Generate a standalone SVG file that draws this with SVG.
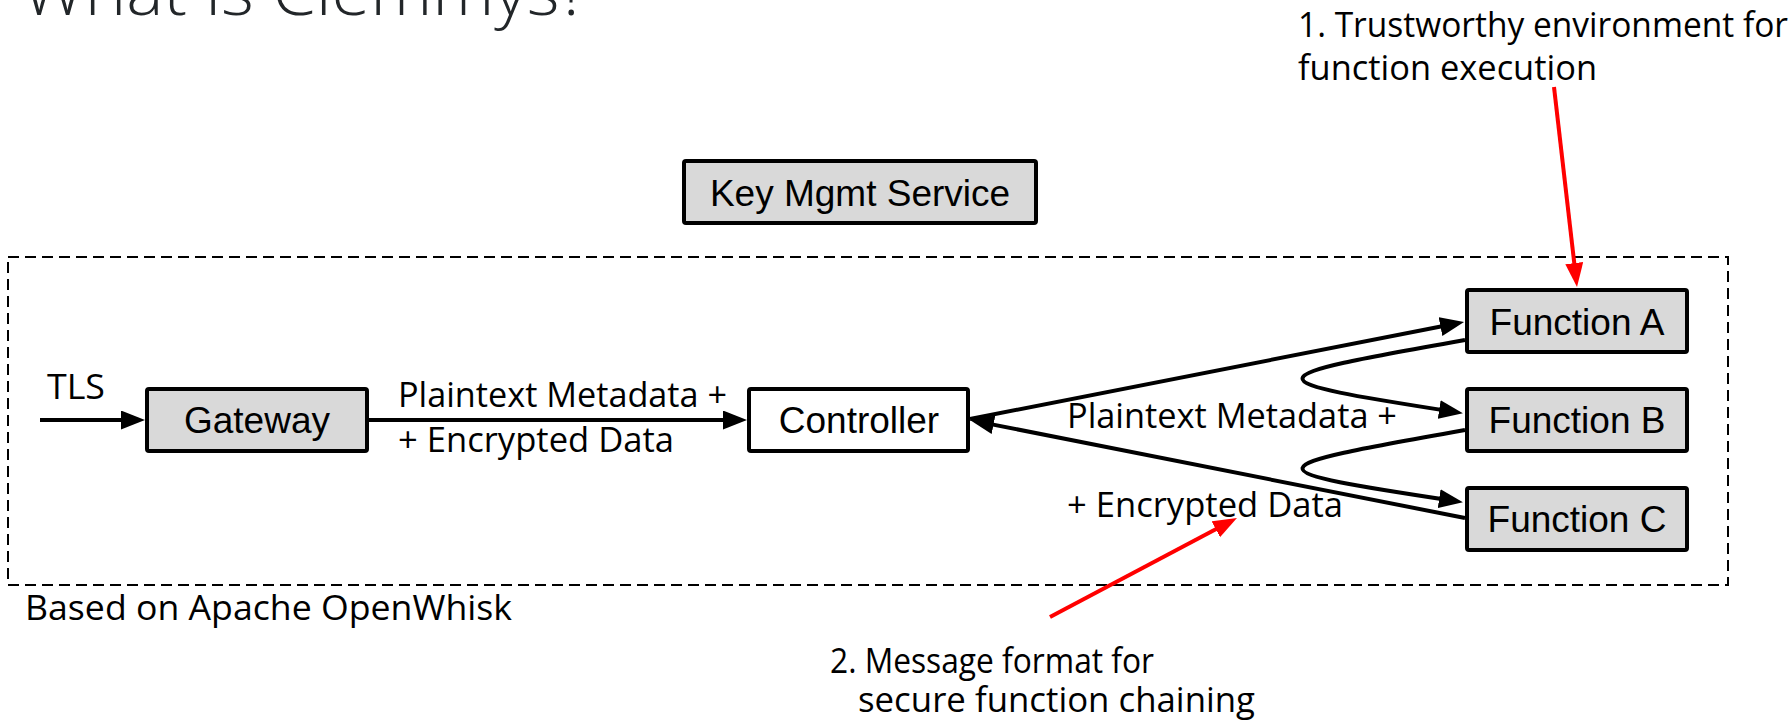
<svg xmlns="http://www.w3.org/2000/svg" width="1792" height="722" viewBox="0 0 1792 722">
  <style>
    .node { stroke: #000; stroke-width: 4; }
    .gray { fill: #d9d9d9; }
    .white { fill: #fff; }
    .nlabel { font-family: "Liberation Sans", Arial, sans-serif; font-size: 37px; fill: #000; text-anchor: middle; }
    .label { font-family: "Open Sans", "Noto Sans", sans-serif; font-size: 35px; fill: #000; }
    .title { font-family: "Open Sans", "Noto Sans", sans-serif; font-size: 66px; font-weight: 300; fill: #222629; }
    .conn { fill: none; stroke: #000; stroke-width: 4; }
    .note { fill: none; stroke: #ff0000; stroke-width: 4; }
  </style>
  <defs>
    <marker id="arrow" markerUnits="userSpaceOnUse" markerWidth="26" markerHeight="20" refX="16" refY="9.5" orient="auto">
      <path d="M0,0 L24,9.5 L0,19 z" fill="#000"/>
    </marker>
    <marker id="arrowRed" markerUnits="userSpaceOnUse" markerWidth="26" markerHeight="20" refX="16" refY="9" orient="auto">
      <path d="M0,0 L24,9 L0,18 z" fill="#ff0000"/>
    </marker>
  </defs>

  <rect width="1792" height="722" fill="#fff"/>

  <!-- slide title, clipped by the top edge -->
  <text class="title" x="22" y="15" textLength="567" lengthAdjust="spacingAndGlyphs">What is Clemmys?</text>

  <!-- OpenWhisk boundary -->
  <g id="openwhisk-boundary">
    <rect x="8" y="257" width="1720" height="328" fill="none" stroke="#000" stroke-width="2" stroke-dasharray="11 6"/>
    <text class="label" x="25" y="620" textLength="487" lengthAdjust="spacingAndGlyphs">Based on Apache OpenWhisk</text>
  </g>

  <g id="key-mgmt-service">
    <rect class="node gray" x="684" y="161" width="352" height="62" rx="2"/>
    <text class="nlabel" x="860" y="206">Key Mgmt Service</text>
  </g>

  <g id="gateway">
    <rect class="node gray" x="147" y="389" width="220" height="62" rx="2"/>
    <text class="nlabel" x="257" y="433">Gateway</text>
  </g>

  <g id="controller">
    <rect class="node white" x="749" y="389" width="219" height="62" rx="2"/>
    <text class="nlabel" x="859" y="433">Controller</text>
  </g>

  <g id="function-a">
    <rect class="node gray" x="1467" y="290" width="220" height="62" rx="2"/>
    <text class="nlabel" x="1577" y="335">Function A</text>
  </g>

  <g id="function-b">
    <rect class="node gray" x="1467" y="389" width="220" height="62" rx="2"/>
    <text class="nlabel" x="1577" y="433">Function B</text>
  </g>

  <g id="function-c">
    <rect class="node gray" x="1467" y="488" width="220" height="62" rx="2"/>
    <text class="nlabel" x="1577" y="532">Function C</text>
  </g>

  <!-- message flow -->
  <g id="connectors">
    <path class="conn" d="M40,420 H137" marker-end="url(#arrow)"/>
    <path class="conn" d="M369,420 H739" marker-end="url(#arrow)"/>
    <path class="conn" d="M970,419 L1456.2,323.5" marker-end="url(#arrow)"/>
    <path class="conn" d="M1465,518 L977.8,421.6" marker-end="url(#arrow)"/>
    <path class="conn" d="M1465,340 C1250,378 1250,380 1455,412" marker-end="url(#arrow)"/>
    <path class="conn" d="M1465,430 C1250,468 1250,470 1455,501" marker-end="url(#arrow)"/>
  </g>

  <g id="connector-labels">
    <text class="label" x="47" y="399" textLength="58" lengthAdjust="spacingAndGlyphs">TLS</text>
    <text class="label" x="398" y="407" textLength="329" lengthAdjust="spacingAndGlyphs">Plaintext Metadata +</text>
    <text class="label" x="398" y="452" textLength="276" lengthAdjust="spacingAndGlyphs">+ Encrypted Data</text>
    <text class="label" x="1067" y="428" textLength="330" lengthAdjust="spacingAndGlyphs">Plaintext Metadata +</text>
    <text class="label" x="1067" y="517" textLength="276" lengthAdjust="spacingAndGlyphs">+ Encrypted Data</text>
  </g>

  <!-- callouts -->
  <g id="callout-1">
    <text class="label" x="1298" y="37" textLength="490" lengthAdjust="spacingAndGlyphs">1. Trustworthy environment for</text>
    <text class="label" x="1298" y="80" textLength="299" lengthAdjust="spacingAndGlyphs">function execution</text>
    <path class="note" d="M1554,87 L1576.1,279" marker-end="url(#arrowRed)"/>
  </g>

  <g id="callout-2">
    <path class="note" d="M1050,617 L1229.9,521.7" marker-end="url(#arrowRed)"/>
    <text class="label" x="830" y="673" textLength="324" lengthAdjust="spacingAndGlyphs">2. Message format for</text>
    <text class="label" x="858" y="712" textLength="397" lengthAdjust="spacingAndGlyphs">secure function chaining</text>
  </g>
</svg>
